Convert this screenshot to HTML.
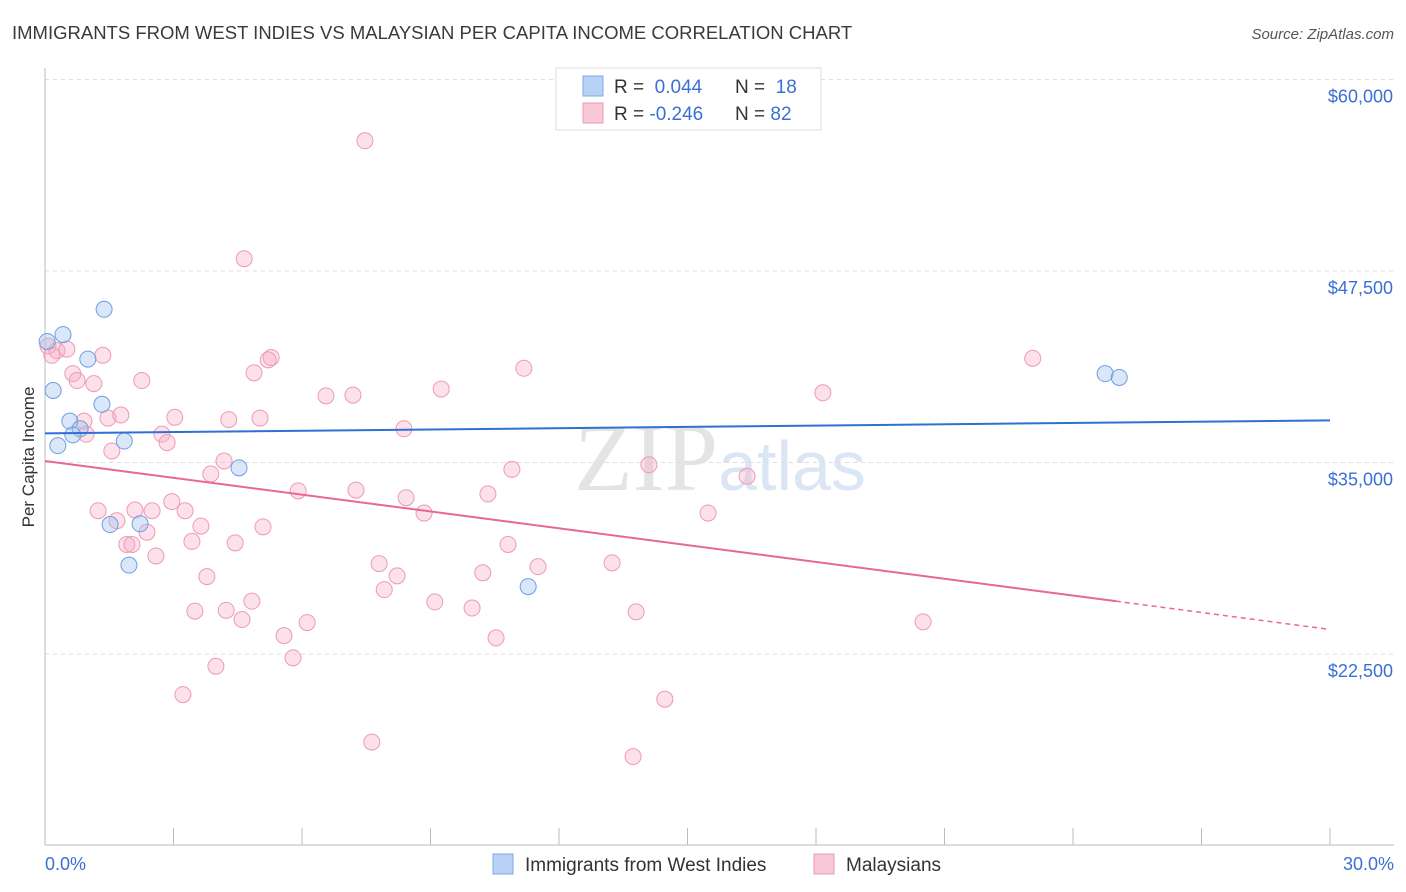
<!DOCTYPE html>
<html><head><meta charset="utf-8"><style>
body{margin:0;background:#fff;font-family:"Liberation Sans",sans-serif}
svg{display:block}
</style></head><body>
<svg id="chart" width="1406" height="892">
<text x="12" y="39" font-size="18.5" fill="#3a3a3a">IMMIGRANTS FROM WEST INDIES VS MALAYSIAN PER CAPITA INCOME CORRELATION CHART</text>
<text x="1394" y="39" font-size="15" fill="#555" text-anchor="end" font-style="italic">Source: ZipAtlas.com</text>
<text x="720" y="490" font-size="96" fill="#e4e4e4" text-anchor="middle" font-family="Liberation Serif">ZIP<tspan fill="#dbe6f5" font-family="Liberation Sans" font-size="70">atlas</tspan></text>
<g id="grid"></g>
<g id="marks"></g>
<text transform="translate(34,457) rotate(-90)" font-size="17" fill="#333" text-anchor="middle">Per Capita Income</text>
<text x="45" y="870" font-size="18" fill="#3b6fd4">0.0%</text>
<text x="1394" y="870" font-size="18" fill="#3b6fd4" text-anchor="end">30.0%</text>
<g>
<rect x="556" y="68" width="265" height="62" fill="#fff" stroke="#ddd"/>
<rect x="583" y="76" width="20" height="20" fill="#b8d2f5" stroke="#7fa9e6"/>
<rect x="583" y="103" width="20" height="20" fill="#f9c8d7" stroke="#ee9ab4"/>
<text x="614" y="93" font-size="19" fill="#333">R = <tspan fill="#3b6fd4">&#160;0.044</tspan><tspan x="735">N = </tspan><tspan fill="#3b6fd4">&#160;18</tspan></text>
<text x="614" y="120" font-size="19" fill="#333">R = <tspan fill="#3b6fd4">-0.246</tspan><tspan x="735">N = </tspan><tspan fill="#3b6fd4">82</tspan></text>
</g>
<g>
<rect x="493" y="854" width="20" height="20" fill="#b8d2f5" stroke="#7fa9e6"/>
<text x="525" y="871" font-size="19" fill="#333">Immigrants from West Indies</text>
<rect x="814" y="854" width="20" height="20" fill="#f9c8d7" stroke="#ee9ab4"/>
<text x="846" y="871" font-size="19" fill="#333">Malaysians</text>
</g>
</svg>
<script>
const yTicks=[60000,47500,35000,22500];
const yTickLabels=["$60,000","$47,500","$35,000","$22,500"];
const xTicks=[0,3,6,9,12,15,18,21,24,27,30];
const blueX=[0.05,0.42,1.38,1.0,0.19,0.58,1.33,0.82,0.65,0.3,1.85,4.53,1.52,2.22,1.96,11.28,24.75,25.08];
const blueY=[42900,43350,45000,41750,39700,37700,38800,37200,36800,36100,36400,34650,30950,31000,28300,26900,40800,40550];
const pinkX=[7.47,4.65,0.07,0.28,0.51,0.16,1.35,0.65,0.75,1.14,2.26,5.28,4.88,5.21,11.18,9.25,6.56,7.19,18.16,23.06,0.91,1.47,1.77,3.03,4.29,5.02,8.38,2.73,0.96,2.85,1.56,4.18,3.87,10.9,14.1,16.39,5.91,7.26,8.43,10.34,2.96,1.24,2.1,3.27,2.5,1.68,3.64,5.09,8.85,15.48,2.38,3.43,4.44,1.91,2.03,2.59,7.8,10.81,13.24,8.22,10.22,11.51,3.78,7.92,4.83,9.1,3.5,4.23,9.97,4.6,6.12,13.8,20.5,5.58,10.53,5.79,3.99,3.22,14.47,7.63,13.73];
const pinkY=[56000,48300,42600,42300,42400,42000,42000,40800,40350,40150,40350,41850,40850,41700,41150,39800,39350,39400,39550,41800,37700,37900,38100,37950,37800,37900,37200,36850,36850,36300,35750,35100,34250,34550,34850,34100,33150,33200,32700,32950,32450,31850,31900,31850,31850,31200,30850,30800,31700,31700,30450,29850,29750,29650,29650,28900,28400,29650,28450,27600,27800,28200,27550,26700,25950,25900,25300,25350,25500,24750,24550,25250,24600,23700,23550,22250,21700,19850,19550,16750,15800];
const blueTrend=[36900,37750];
const pinkTrend=[35100,25950,24100];
const NS="http://www.w3.org/2000/svg";
const X0=45,X1=1330,Y60=79.5,PXPER=191.5/12500,BOT=845;
const xs=v=>X0+(v/30)*(X1-X0);
const ys=v=>Y60+(60000-v)*PXPER;
function mk(t,a,p){const e=document.createElementNS(NS,t);for(const k in a)e.setAttribute(k,a[k]);p.appendChild(e);return e;}
const g=document.getElementById('grid'),m=document.getElementById('marks');
yTicks.forEach((v,i)=>{
 const l=mk('line',{x1:X0,x2:1394,y1:ys(v),y2:ys(v),stroke:'#ddd','stroke-dasharray':'4,4'},g);
 
 
 const t=mk('text',{x:1393,y:ys(v)+23,'font-size':18,fill:'#3b6fd4','text-anchor':'end'},g);
 t.textContent=yTickLabels[i];
 
 
});
const ax=mk('line',{x1:X0,x2:X0,y1:68,y2:BOT,stroke:'#bbb'},g);


const bx=mk('line',{x1:X0,x2:1394,y1:BOT,y2:BOT,stroke:'#bbb'},g);


xTicks.forEach(v=>{
 const t=mk('line',{x1:xs(v),x2:xs(v),y1:828,y2:BOT,stroke:'#bbb'},g);
 
 
});
pinkX.forEach((x,i)=>{
 const c=mk('circle',{cx:xs(x),cy:ys(pinkY[i]),r:8,fill:'rgba(246,170,195,0.35)',stroke:'#ee9ab4','stroke-width':1},m);
 
 
});
blueX.forEach((x,i)=>{
 const c=mk('circle',{cx:xs(x),cy:ys(blueY[i]),r:8,fill:'rgba(160,195,240,0.4)',stroke:'#6f9ee0','stroke-width':1},m);
 
 
});
const bl=mk('line',{x1:xs(0),y1:ys(blueTrend[0]),x2:xs(30),y2:ys(blueTrend[1]),stroke:'#2f6fd6','stroke-width':2},m);


const pl=mk('line',{x1:xs(0),y1:ys(pinkTrend[0]),x2:xs(25),y2:ys(pinkTrend[1]),stroke:'#e8669a','stroke-width':2},m);


const pd=mk('line',{x1:xs(25),y1:ys(pinkTrend[1]),x2:xs(30),y2:ys(pinkTrend[2]),stroke:'#e8669a','stroke-width':1.5,'stroke-dasharray':'5,4'},m);


</script>
</body></html>
